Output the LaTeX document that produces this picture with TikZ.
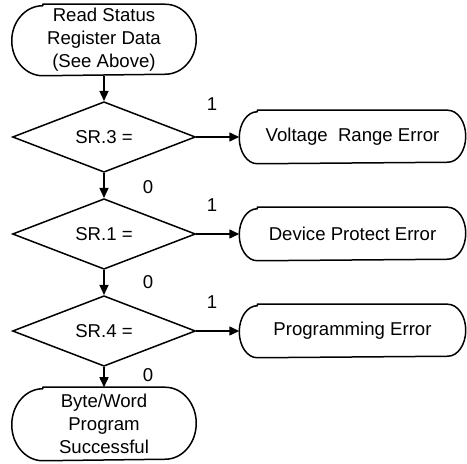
\documentclass[tikz,border=0pt]{standalone}
\usepackage{fontspec}
\setmainfont{Liberation Sans}
\usetikzlibrary{shapes.geometric,arrows.meta}
\def\pill(#1)(#2:#3){\draw[line join=round] ([xshift=#2]#1.north west) -- ([xshift=-#2]#1.north east) arc[start angle=90,end angle=-90,x radius=#2,y radius=#3] -- ([xshift=#2]#1.south west) arc[start angle=270,end angle=90,x radius=#2,y radius=#3] -- cycle;}

\begin{document}
\begin{tikzpicture}[x=0.5pt,y=-0.5pt,font=\fontsize{9.3}{11.5}\selectfont,line width=0.75pt,
	term/.style={minimum width=91.5pt, minimum height=35pt, inner sep=0pt, align=center},
	errbox/.style={minimum width=112.5pt, minimum height=26pt, inner sep=0pt},
	test/.style={draw, diamond, minimum width=91.5pt, minimum height=34pt, inner sep=0pt},
	flow/.style={-{Triangle[length=5pt,width=4.5pt]}}]
		%%%%% START %%%%%
		\useasboundingbox (0,0) rectangle (467,464);
		
		\node[term] (start) at (104,40) {Read Status\\Register Data\\(See Above)};
		\pill(start)(15.5pt:17.5pt);
		\node[test] (sr3) at (104,137) {SR.3 =};
		\node[test] (sr1) at (104,234) {SR.1 =};
		\node[test] (sr4) at (104,331) {SR.4 =};
		\node[term, minimum height=36pt] (done) at (104,424) {Byte/Word\\Program\\Successful};
		\pill(done)(15.5pt:18pt);
		
		\node[errbox] (vre) at (352.5,137) {Voltage\ \ Range Error};
		\pill(vre)(9pt:13pt);
		\node[errbox] (dpe) at (352.5,234) {Device Protect Error};
		\pill(dpe)(9pt:13pt);
		\node[errbox] (pge) at (352.5,331) {Programming Error};
		\pill(pge)(9pt:13pt);
		
		\draw[flow] (start) -- (sr3);
		\draw[flow] (sr3) -- (sr1);
		\draw[flow] (sr1) -- (sr4);
		\draw[flow] (sr4) -- (done);
		
		\draw[flow] (sr3) -- (vre);
		\draw[flow] (sr1) -- (dpe);
		\draw[flow] (sr4) -- (pge);
		
		\node (one3) at (212,104) {1};
		\node (one1) at (212,205) {1};
		\node (one4) at (212,302) {1};
		\node (zero3) at (148,187) {0};
		\node (zero1) at (148,282) {0};
		\node (zero4) at (148,375) {0};
		%%%%% END %%%%%
\end{tikzpicture}
\end{document}
